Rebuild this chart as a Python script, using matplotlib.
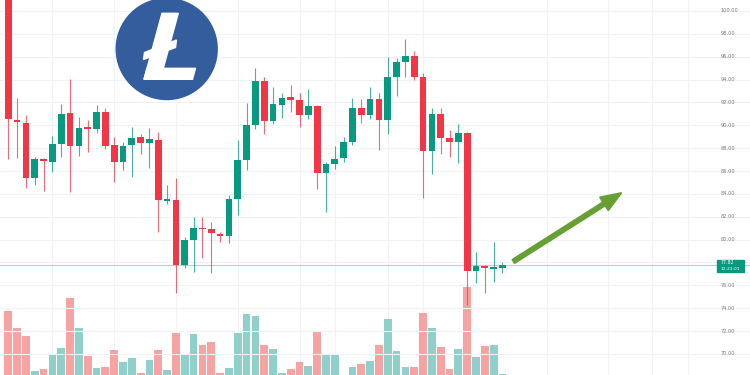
import matplotlib
matplotlib.use("Agg")
import matplotlib.pyplot as plt
from matplotlib.patches import Circle, Polygon, Rectangle, FancyArrow
from matplotlib.transforms import blended_transform_factory

# daily LTC candles
opens = [102.5, 90.45, 90.23, 85.36, 87.05, 86.82, 88.34, 91.05, 88.19, 89.8,
         89.7, 91.14, 88.28, 86.76, 88.27, 88.95, 88.48, 88.71, 83.4, 83.46,
         77.78, 79.97, 80.99, 80.9, 80.49, 80.32, 83.53, 86.96, 90.03, 93.9,
         90.4, 91.78, 92.48, 92.21, 90.87, 91.69, 85.85, 86.59, 87.11, 88.57,
         91.49, 90.9, 92.27, 90.46, 94.2, 95.51, 96.06, 94.2, 87.78, 90.96,
         88.92, 88.57, 89.3, 77.28, 77.69, 77.45, 77.49]
highs = [103.0, 92.41, 90.9, 87.25, 87.11, 89.06, 91.86, 94.02, 90.7, 90.46,
         91.78, 91.54, 88.95, 88.57, 89.88, 89.24, 89.74, 89.44, 84.78, 85.36,
         80.25, 82.0, 82.0, 81.57, 80.69, 83.9, 88.71, 91.92, 94.98, 94.2,
         93.32, 92.86, 93.53, 92.85, 93.15, 91.78, 86.82, 88.19, 89.0, 92.36,
         92.27, 93.32, 92.8, 96.0, 95.86, 97.52, 96.53, 94.6, 91.49, 91.49,
         89.59, 90.11, 89.4, 78.94, 77.78, 79.82, 78.07]
lows = [87.05, 87.17, 84.49, 84.78, 84.28, 85.94, 87.25, 84.19, 87.31, 87.69,
        89.35, 87.9, 85.07, 86.09, 85.5, 87.49, 86.24, 80.69, 83.1, 75.3,
        77.49, 77.19, 78.36, 77.05, 79.82, 79.73, 82.15, 86.09, 89.65, 89.24,
        90.11, 90.61, 91.19, 89.88, 90.52, 84.4, 82.44, 86.15, 86.82, 88.28,
        90.17, 90.52, 87.84, 89.24, 92.56, 94.25, 93.96, 83.61, 85.74, 87.49,
        87.2, 86.73, 74.3, 76.18, 75.3, 76.32, 77.05]
closes = [90.58, 90.3, 85.36, 87.05, 86.88, 88.34, 91.01, 88.19, 89.74, 89.7,
          91.14, 88.19, 86.76, 88.19, 88.86, 88.42, 88.77, 83.46, 83.5, 77.78,
          79.97, 80.99, 80.9, 80.55, 80.32, 83.53, 86.96, 90.03, 93.9, 90.4,
          91.84, 92.42, 92.21, 90.87, 91.69, 85.85, 86.59, 87.05, 88.57, 91.49,
          90.9, 92.27, 90.46, 94.25, 95.51, 96.06, 94.25, 87.78, 90.96, 88.86,
          88.57, 89.3, 77.28, 77.72, 77.52, 77.5, 77.82]
volumes = [643, 470, 390, 40, 63, 210, 273, 773, 473, 193,
           70, 83, 253, 130, 173, 20, 153, 253, 53, 420,
           207, 407, 303, 333, 20, 70, 423, 610, 590, 300,
           257, 17, 57, 133, 90, 430, 210, 210, 5, 83,
           110, 143, 300, 560, 240, 77, 77, 617, 470, 277,
           63, 257, 883, 180, 287, 297, 15]

last_price = 77.82
price_ticks = [100, 98, 96, 94, 92, 90, 88, 86, 84, 82, 80, 78, 76, 74, 72, 70]
vgrid = [5, 12, 19, 26, 33, 37, 43, 47, 61, 68, 73, 77]

up_col = "#089981"
dn_col = "#f23645"
vol_up = "#8fd1ca"
vol_dn = "#f7a3a3"

fig = plt.figure(figsize=(7.5, 3.75), dpi=100)

# volume panel sits behind the candles
axv = fig.add_axes([0, 0, 1, 1])
axv.set_facecolor("white")
ax = fig.add_axes([0, 0, 1, 1], sharex=axv)
ax.set_facecolor("none")

idx = list(range(len(opens)))
is_up = [c >= o for o, c in zip(opens, closes)]

axv.bar(idx, volumes, width=0.88,
        color=[vol_up if u else vol_dn for u in is_up], zorder=2)
axv.set_ylim(0, 3750)
axv.set_xlim(-0.94, 84.05)
for g in vgrid:
    axv.axvline(g, color="#f0f2f6", lw=0.8, zorder=0)

for i in idx:
    col = up_col if is_up[i] else dn_col
    ax.vlines(i, lows[i], highs[i], color=col, lw=0.8, alpha=0.75, zorder=3)
    lo, hi = min(opens[i], closes[i]), max(opens[i], closes[i])
    ax.bar(i, max(hi - lo, 0.12), bottom=lo, width=0.76, color=col, zorder=4)

ax.set_ylim(100 - 364 / 11.43, 100 + 11 / 11.43)
for p in price_ticks:
    ax.axhline(p, color="#f0f2f6", lw=0.8, zorder=0)
ax.axhline(last_price, color="#a8dad4", lw=0.8, zorder=1)

for a in (ax, axv):
    a.set_xticks([])
    a.set_yticks([])
    for s in a.spines.values():
        s.set_visible(False)

trans = blended_transform_factory(ax.transAxes, ax.transData)
for p in price_ticks:
    if abs(p - last_price) < 1:
        continue
    ax.text(0.9613, p, f"{p:.2f}", transform=trans, ha="left", va="center",
            fontsize=3.6, color="#787b86")

ax.add_patch(Rectangle((0.9564, 77.14), 0.0356, 1.08, transform=trans,
                       color=up_col, zorder=6, clip_on=False))
ax.text(0.9613, 77.98, f"{last_price:.2f}", transform=trans, ha="left",
        va="center", fontsize=3.3, color="white", zorder=7)
ax.text(0.9613, 77.42, "12:23:01", transform=trans, ha="left",
        va="center", fontsize=3.2, color="white", zorder=7)

# overlay in pixel units for the logo and the arrow
ov = fig.add_axes([0, 0, 1, 1])
ov.set_xlim(0, 750)
ov.set_ylim(375, 0)
ov.axis("off")

ov.add_patch(Circle((166.7, 49), 50.5, color="#345d9d", zorder=5))
white = "white"
ov.add_patch(Polygon([(162, 13.3), (178.3, 13.3), (160.3, 79.3), (144, 79.3)],
                     color=white, zorder=6))
ov.add_patch(Polygon([(147, 68.3), (195.5, 68.3), (192.5, 79.3), (144, 79.3)],
                     color=white, zorder=6))
ov.add_patch(Polygon([(144.5, 52.5), (176.5, 40), (175.5, 47.5), (143.5, 59.5)],
                     color=white, zorder=6))

ov.add_patch(FancyArrow(513.3, 261.5, 108.4, -68.8, width=4.5, head_width=16,
                        head_length=21, length_includes_head=True,
                        color="#679f34", zorder=6))

fig.savefig("out.png", dpi=100)
